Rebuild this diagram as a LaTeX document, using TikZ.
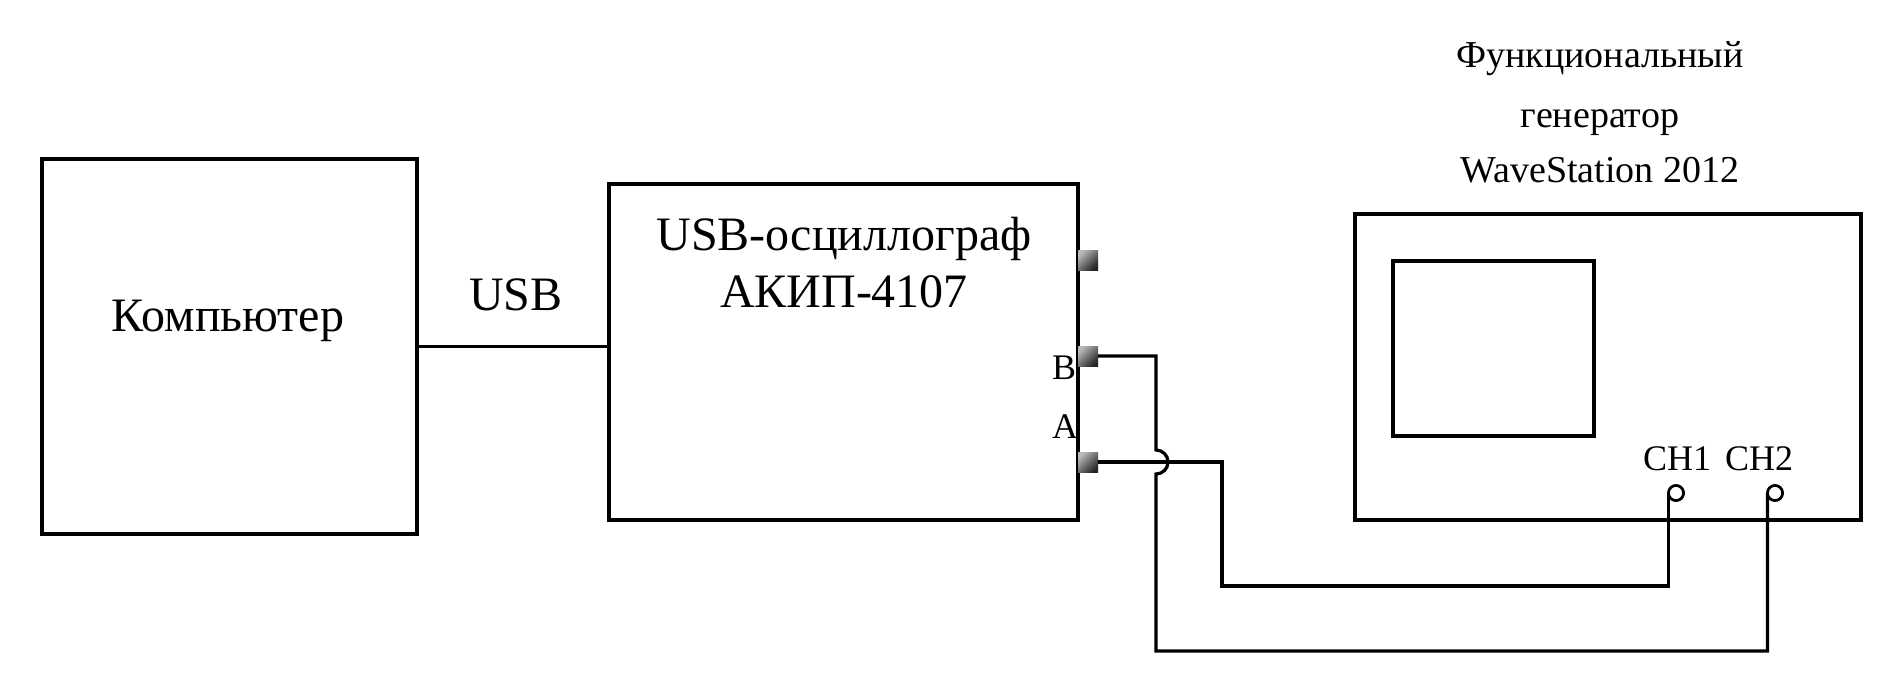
\documentclass[tikz,border=0pt]{standalone}
\usepackage{fontspec}
\setmainfont{Liberation Serif}
\begin{document}
\begin{tikzpicture}[x=0.5pt,y=-0.5pt,
  box/.style={draw, line width=1.6pt, rectangle, inner sep=0pt, outer sep=0pt},
  wire/.style={line width=1.6pt, line join=miter},
  port/.style={rectangle, inner sep=0pt, outer sep=0pt, minimum size=10pt,
    top color=gray!55, bottom color=black!85, shading angle=45},
  jack/.style={circle, draw, line width=1.3pt, inner sep=0pt, outer sep=0pt, minimum size=7.5pt, fill=white},
  bigtxt/.style={anchor=base, inner sep=0pt, font=\fontsize{24}{28}\selectfont},
  midtxt/.style={anchor=base, inner sep=0pt, font=\fontsize{19}{23}\selectfont},
  smalltxt/.style={anchor=base, inner sep=0pt, font=\fontsize{18}{22}\selectfont}]
\useasboundingbox (0,0) rectangle (1904,680);
\fill[white] (0,0) rectangle (1904,680);

% boxes
\node[box, minimum width=187.5pt, minimum height=187.5pt] (comp) at (229.5,346.5) {};
\node[box, minimum width=234.5pt, minimum height=168pt] (osc) at (843.5,352) {};
\node[box, minimum width=253pt, minimum height=153pt] (gen) at (1608,367) {};
\node[box, minimum width=100.5pt, minimum height=87.5pt] (screen) at (1493.5,348.5) {};

% texts
\node[bigtxt] (comptxt) at (228,331) {Компьютер};
\node[bigtxt] (usbtxt) at (516,310) {USB};
\node[bigtxt] (osctxt1) at (844,250) {USB-осциллограф};
\node[bigtxt] (osctxt2) at (844,307) {АКИП-4107};
\node[midtxt] (gentxt1) at (1600,67) {Функциональный};
\node[midtxt] (gentxt2) at (1600,127) {генератор};
\node[midtxt] (gentxt3) at (1600,182) {WaveStation 2012};
\node[smalltxt] (btxt) at (1064,379) {B};
\node[smalltxt] (atxt) at (1065,438) {A};
\node[smalltxt] (ch1txt) at (1677,470) {CH1};
\node[smalltxt] (ch2txt) at (1759,470) {CH2};

% USB link
\draw[wire] (comp.east) -- (comp.east -| osc.west);

% ports
\node[port] (pC) at (1088,260) {};
\node[port] (pB) at (1088,356) {};
\node[port] (pA) at (1088,462) {};

% jacks
\node[jack] (ch1) at (1676,493) {};
\node[jack] (ch2) at (1775,493) {};

% wire coordinates
\coordinate (bturn) at (1156,356);
\coordinate (jtop) at (1156,450);
\coordinate (bbot) at (1156,651);
\coordinate (bright) at (ch2.west |- bbot);
\coordinate (aturn) at (1222,462);
\coordinate (abot) at (1222,586);
\coordinate (aright) at (ch1.west |- abot);

% A wire
\draw[wire] (pA.east) -- (aturn) -- (abot) -- (aright) -- (ch1.west);
% B wire with jump over A wire
\draw[wire] (pB.east) -- (bturn) -- (jtop) arc[start angle=90, end angle=-90, radius=6pt] -- (bbot) -- (bright) -- (ch2.west);

% redraw jacks on top
\node[jack] at (ch1) {};
\node[jack] at (ch2) {};
\end{tikzpicture}
\end{document}
